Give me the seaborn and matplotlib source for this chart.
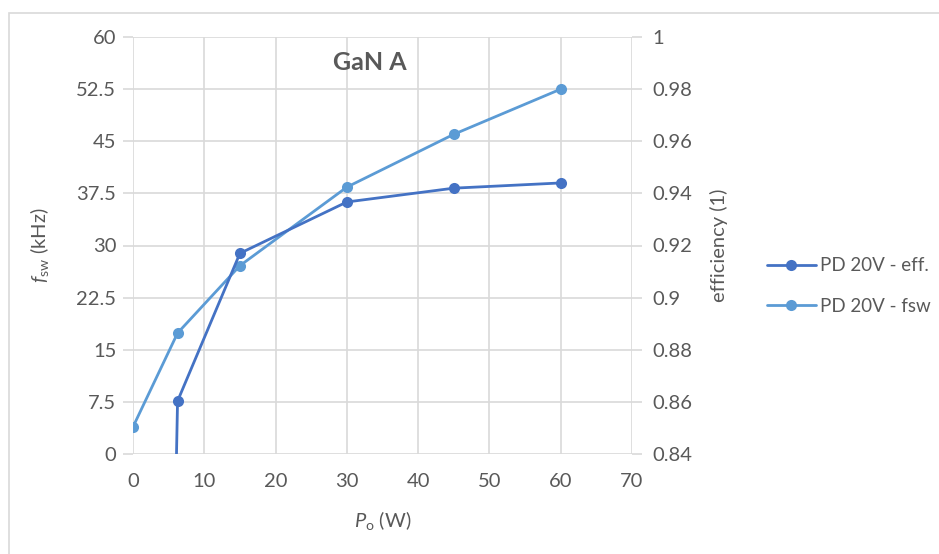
import matplotlib
matplotlib.use("Agg")
import matplotlib.pyplot as plt
import seaborn as sns
import pandas as pd
from matplotlib.lines import Line2D
from matplotlib.patches import Rectangle

# Data
po_w = [0, 6.25, 15, 30, 45, 60]
eff = [0.0, 0.8603, 0.917, 0.9367, 0.942, 0.944]
fsw_khz = [3.9, 17.4, 27.1, 38.4, 46.0, 52.5]
left_ticks = [0, 7.5, 15, 22.5, 30, 37.5, 45, 52.5, 60]
left_tick_labels = ["0", "7.5", "15", "22.5", "30", "37.5", "45", "52.5", "60"]
right_ticks = [0.84, 0.86, 0.88, 0.9, 0.92, 0.94, 0.96, 0.98, 1.0]
right_tick_labels = ["0.84", "0.86", "0.88", "0.9", "0.92", "0.94", "0.96", "0.98", "1"]
x_ticks = [0, 10, 20, 30, 40, 50, 60, 70]
series_names = ["PD 20V - eff.", "PD 20V - fsw"]

sns.set_style("white")
plt.rcParams["font.family"] = ["Lato", "DejaVu Sans"]
plt.rcParams["mathtext.fontset"] = "custom"
plt.rcParams["mathtext.rm"] = "Lato"
plt.rcParams["mathtext.it"] = "Lato:italic"

c_eff = "#4472C4"
c_fsw = "#5B9BD5"
grid_c = "#D9D9D9"
txt_c = "#595959"
fs = 14.5

fig = plt.figure(figsize=(9.39, 5.54), dpi=100)
ax = fig.add_axes([133/939, 1 - 454/554, (632-133)/939, (454-37)/554])
ax2 = ax.twinx()

df = pd.DataFrame({"Po": po_w, "eff": eff, "fsw": fsw_khz})

sns.lineplot(data=df, x="Po", y="fsw", ax=ax, color=c_fsw, marker="o",
             markersize=8, markeredgewidth=0, linewidth=2, zorder=3)
sns.lineplot(data=df, x="Po", y="eff", ax=ax2, color=c_eff, marker="o",
             markersize=8, markeredgewidth=0, linewidth=2, zorder=3)

ax.set_xlim(0, 70)
ax.set_ylim(0, 60)
ax2.set_ylim(0.84, 1.0)
ax.set_xticks(x_ticks)
ax.set_xticklabels([str(t) for t in x_ticks])
ax.set_yticks(left_ticks)
ax.set_yticklabels(left_tick_labels)
ax2.set_yticks(right_ticks)
ax2.set_yticklabels(right_tick_labels)

ax.grid(True, color=grid_c, linewidth=1.2)
ax.set_axisbelow(True)
for a in (ax, ax2):
    for s in a.spines.values():
        s.set_visible(False)

ax.tick_params(axis="both", which="both", colors=grid_c, labelcolor=txt_c,
               labelsize=fs, length=7, width=1.2, direction="out", pad=5)
ax2.tick_params(axis="y", colors=grid_c, labelcolor=txt_c, labelsize=fs,
                length=7, width=1.2, direction="out", pad=8)
ax.tick_params(axis="x", pad=7)

ax.set_xlabel(r"$\mathit{P}_{\mathrm{o}}$ (W)", fontsize=fs, color=txt_c, labelpad=13)
ax.set_ylabel(r"$\mathit{f}_{\mathrm{sw}}$ (kHz)", fontsize=fs, color=txt_c, labelpad=18)
ax2.set_ylabel("efficiency (1)", fontsize=fs, color=txt_c, labelpad=12)

ax.text(0.475, 0.94, "GaN A", transform=ax.transAxes, ha="center", va="center",
        fontsize=18, color=txt_c, fontweight="bold")

lfs = 13.5
handles = [Line2D([], [], color=c_eff, marker="o", markersize=8, markeredgewidth=0, linewidth=2),
           Line2D([], [], color=c_fsw, marker="o", markersize=8, markeredgewidth=0, linewidth=2)]
fig.legend(handles, series_names, loc="center left", bbox_to_anchor=(750/939, 1 - 286/554),
           frameon=False, fontsize=lfs, labelcolor=txt_c, handlelength=2.6,
           handletextpad=0.25, labelspacing=1.25)

fig.patches.append(Rectangle((9/939, -0.1), 1.2, (1 - 13/554) + 0.1,
                             transform=fig.transFigure, fill=False,
                             edgecolor="#D9D9D9", linewidth=1.2, zorder=0))

fig.savefig("out.png", dpi=100, facecolor="white")
